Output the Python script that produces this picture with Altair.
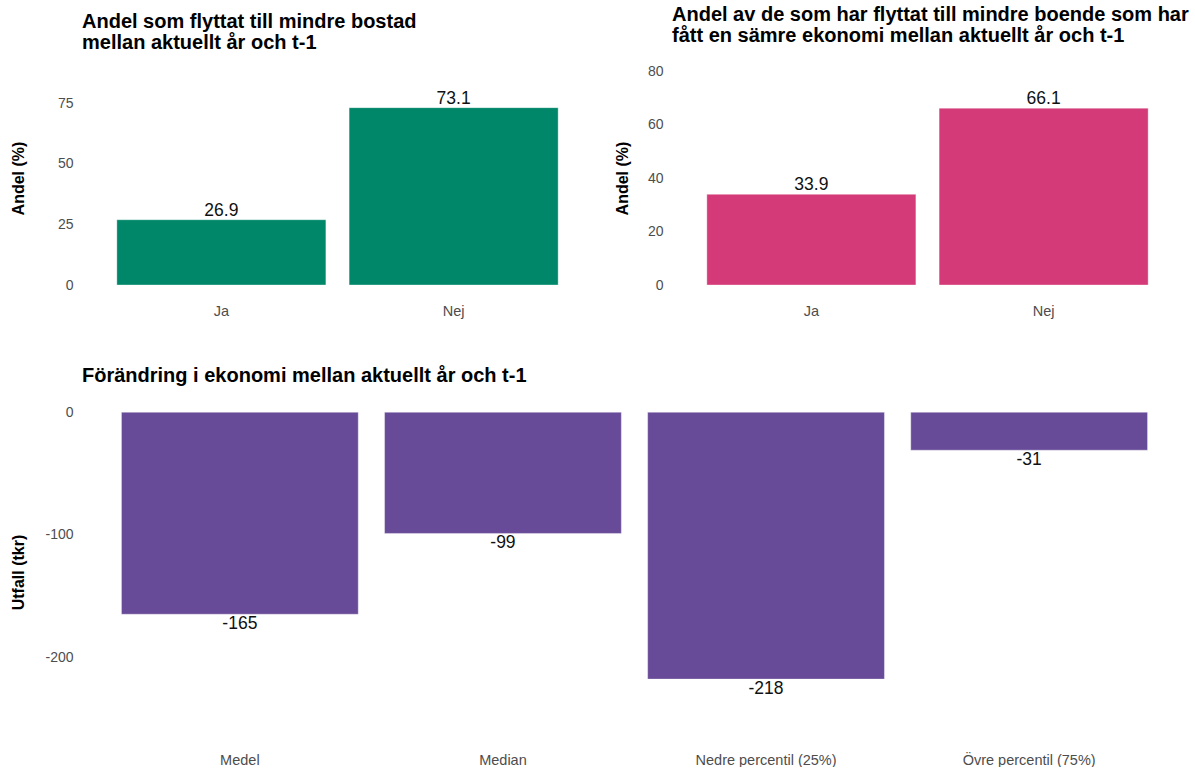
import altair as alt
import pandas as pd

# Andel (%) – flyttat till mindre bostad
svar = ["Ja", "Nej"]
andel_mindre_bostad = [26.9, 73.1]
# Andel (%) – av de som flyttat, fått sämre ekonomi
andel_samre_ekonomi = [33.9, 66.1]

# Förändring i ekonomi (tkr)
matt = ["Medel", "Median", "Nedre percentil (25%)", "Övre percentil (75%)"]
utfall_tkr = [-165, -99, -218, -31]

GREEN = "#00876A"
PINK = "#D43A77"
PURPLE = "#684B98"
FONT = "Liberation Sans"


def y_axis(title, values, height, title_x):
    return alt.Axis(
        title=title,
        values=values,
        labelExpr="datum.value + ''",
        labelFontSize=14,
        labelColor="#4D4D4D",
        labelPadding=9,
        titleFontSize=16,
        titleFontWeight="bold",
        titleColor="black",
        titleX=title_x,
        titleY=height / 2,
        titleBaseline="middle",
        titleAlign="center",
    )


def x_axis(pad):
    return alt.Axis(
        title=None,
        labelAngle=0,
        labelFontSize=14.5,
        labelColor="#4D4D4D",
        labelPadding=pad,
    )


def panel(cats, values, color, domain, ticks, title, ytitle, width, height,
          fmt, label_pad, title_offset, title_x, negative=False):
    df = pd.DataFrame({"kat": cats, "varde": values})
    df["etikett"] = [format(v, fmt) for v in values]
    x = alt.X("kat:N", sort=cats,
              scale=alt.Scale(paddingInner=0.1, paddingOuter=0.15),
              axis=x_axis(label_pad))
    y = alt.Y("varde:Q", scale=alt.Scale(domain=domain, nice=False, zero=True),
              axis=y_axis(ytitle, ticks, height, title_x))
    bars = alt.Chart(df).mark_bar(
        color=color, stroke="white", strokeWidth=0.6, strokeOpacity=0.6
    ).encode(x=x, y=y)
    if negative:
        text = alt.Chart(df).mark_text(
            baseline="top", dy=0.5, fontSize=17.5, color="#111111"
        ).encode(x=alt.X("kat:N", sort=cats), y="varde:Q", text="etikett:N")
    else:
        text = alt.Chart(df).mark_text(
            baseline="alphabetic", dy=-4, fontSize=17.5, color="#111111"
        ).encode(x=alt.X("kat:N", sort=cats), y="varde:Q", text="etikett:N")
    return alt.layer(bars, text).properties(
        width=width,
        height=height,
        title=alt.TitleParams(
            text=title, anchor="start", frame="group", fontSize=20,
            fontWeight="bold", color="black", lineHeight=21,
            baseline="alphabetic", offset=title_offset,
        ),
    )


left = panel(svar, andel_mindre_bostad, GREEN, [0, 88.2], [0, 25, 50, 75],
             ["Andel som flyttat till mindre bostad",
              "mellan aktuellt år och t-1"],
             "Andel (%)", 511, 214, ".1f", 19, 2, -64)

right = panel(svar, andel_samre_ekonomi, PINK, [0, 80], [0, 20, 40, 60, 80],
              ["Andel av de som har flyttat till mindre boende som har",
               "fått en sämre ekonomi mellan aktuellt år och t-1"],
              "Andel (%)", 511, 214, ".1f", 19, 2, -50)

bottom = panel(matt, utfall_tkr, PURPLE, [-271, 10], [0, -100, -200],
               "Förändring i ekonomi mellan aktuellt år och t-1",
               "Utfall (tkr)", 1105, 344, "d", 9, -2, -64, negative=True)

top = alt.hconcat(left, right, spacing=21)
chart = alt.vconcat(top, bottom, spacing=48).configure(
    font=FONT,
    background="white",
    padding={"left": 10, "top": 5, "right": 0, "bottom": 0},
).configure_view(stroke=None).configure_axis(
    grid=False, domain=False, ticks=False, tickSize=0,
)

chart.save("out.html", embed_options={"renderer": "svg", "actions": False})
